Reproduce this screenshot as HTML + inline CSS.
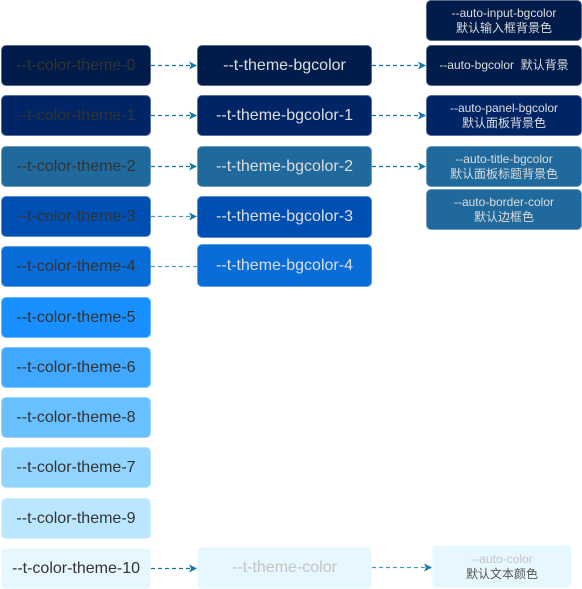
<!DOCTYPE html>
<html><head><meta charset="utf-8"><style>
body{margin:0;width:582px;height:589px;background:#fff;position:relative;overflow:hidden;font-family:"Liberation Sans","Noto Sans CJK SC",sans-serif}
.b{position:absolute;box-sizing:border-box;border-radius:5px;border:1px solid rgba(255,255,255,.35);display:flex;align-items:center;justify-content:center;text-align:center;font-size:16px;color:#333}
.m{color:#ddd}
.r{font-size:12px;line-height:15px;color:#ddd;flex-direction:column}
svg{position:absolute;left:0;top:0}
</style></head><body>
<div class="b" style="left:1px;top:45px;width:150px;height:41px;background:#001c4a">--t-color-theme-0</div>
<div class="b" style="left:1px;top:95px;width:150px;height:41px;background:#002566">--t-color-theme-1</div>
<div class="b" style="left:1px;top:146px;width:150px;height:41px;background:#1f699c">--t-color-theme-2</div>
<div class="b" style="left:1px;top:196px;width:150px;height:41px;background:#0050b3">--t-color-theme-3</div>
<div class="b" style="left:1px;top:246px;width:150px;height:41px;background:#096dd9">--t-color-theme-4</div>
<div class="b" style="left:1px;top:297px;width:150px;height:41px;background:#1890ff">--t-color-theme-5</div>
<div class="b" style="left:1px;top:347px;width:150px;height:41px;background:#40a9ff">--t-color-theme-6</div>
<div class="b" style="left:1px;top:397px;width:150px;height:41px;background:#69c0ff">--t-color-theme-8</div>
<div class="b" style="left:1px;top:447px;width:150px;height:41px;background:#91d5ff">--t-color-theme-7</div>
<div class="b" style="left:1px;top:498px;width:150px;height:41px;background:#bae7ff">--t-color-theme-9</div>
<div class="b" style="left:1px;top:548px;width:150px;height:41px;background:#e6f7ff">--t-color-theme-10</div>

<div class="b m" style="left:197px;top:45px;width:175px;height:41px;background:#001c4a">--t-theme-bgcolor</div>
<div class="b m" style="left:197px;top:95px;width:175px;height:41px;background:#002566">--t-theme-bgcolor-1</div>
<div class="b m" style="left:197px;top:146px;width:175px;height:41px;background:#1f699c">--t-theme-bgcolor-2</div>
<div class="b m" style="left:197px;top:196px;width:175px;height:42px;background:#0050b3">--t-theme-bgcolor-3</div>
<div class="b m" style="left:197px;top:244px;width:175px;height:43px;background:#096dd9">--t-theme-bgcolor-4</div>
<div class="b" style="left:197px;top:547px;width:175px;height:42px;background:#e6f7ff;color:#c4c4c4">--t-theme-color</div>

<div class="b r" style="left:426px;top:0px;width:156px;height:41px;background:#001c4a"><span>--auto-input-bgcolor</span><span>默认输入框背景色</span></div>
<div class="b r" style="left:426px;top:45px;width:156px;height:41px;background:#001c4a"><span>--auto-bgcolor&nbsp; 默认背景</span></div>
<div class="b r" style="left:426px;top:95px;width:156px;height:41px;background:#002566"><span>--auto-panel-bgcolor</span><span>默认面板背景色</span></div>
<div class="b r" style="left:426px;top:146px;width:156px;height:41px;background:#1f699c"><span>--auto-title-bgcolor</span><span>默认面板标题背景色</span></div>
<div class="b r" style="left:426px;top:189px;width:156px;height:41px;background:#1f699c"><span>--auto-border-color</span><span>默认边框色</span></div>
<div class="b r" style="left:432px;top:545px;width:140px;height:43px;background:#e6f7ff;color:#555"><span style="color:#c4c4c4">--auto-color</span><span>默认文本颜色</span></div>

<svg width="582" height="589">
<defs><marker id="a" markerWidth="8" markerHeight="8" refX="7" refY="4" orient="auto" markerUnits="userSpaceOnUse"><path d="M0,0 L8,4 L0,8 L2,4 Z" fill="#1477a8"/></marker></defs>
<g stroke="#1477a8" stroke-width="1.2" stroke-dasharray="4,3" fill="none">
<line x1="151" y1="65.5" x2="196" y2="65.5" marker-end="url(#a)"/>
<line x1="151" y1="115.5" x2="196" y2="115.5" marker-end="url(#a)"/>
<line x1="151" y1="166.5" x2="196" y2="166.5" marker-end="url(#a)"/>
<line x1="151" y1="216.5" x2="196" y2="216.5" marker-end="url(#a)" stroke="#4a9cc8"/>
<line x1="151" y1="266.5" x2="197" y2="266.5" stroke="#4a9cc8"/>
<line x1="151" y1="568.5" x2="196" y2="568.5" marker-end="url(#a)"/>
<line x1="372" y1="65.5" x2="425" y2="65.5" marker-end="url(#a)"/>
<line x1="372" y1="115.5" x2="425" y2="115.5" marker-end="url(#a)"/>
<line x1="372" y1="166.5" x2="425" y2="166.5" marker-end="url(#a)"/>
<line x1="372" y1="567.5" x2="431" y2="567.5" marker-end="url(#a)" stroke="#4a9cc8"/>
</g></svg>
</body></html>
